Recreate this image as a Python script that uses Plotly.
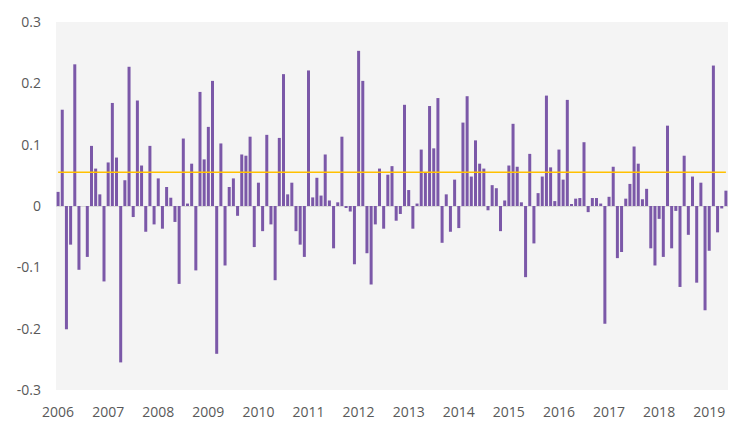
import plotly.graph_objects as go
import pandas as pd

months = [d.strftime("%Y-%m") for d in pd.date_range("2006-01-01", periods=161, freq="MS")]

returns = [
    0.023, 0.157, -0.201, -0.063, 0.231, -0.104, 0.0, -0.083, 0.098, 0.061, 0.019, -0.123,
    0.071, 0.168, 0.079, -0.255, 0.042, 0.227, -0.018, 0.172, 0.066, -0.042, 0.098, -0.030,
    0.045, -0.037, 0.031, 0.0135, -0.026, -0.127, 0.110, 0.004, 0.069, -0.105, 0.186, 0.076,
    0.129, 0.204, -0.241, 0.102, -0.097, 0.031, 0.045, -0.016, 0.084, 0.082, 0.113, -0.067,
    0.038, -0.041, 0.116, -0.030, -0.121, 0.111, 0.215, 0.019, 0.038, -0.041, -0.063, -0.083,
    0.221, 0.014, 0.046, 0.017, 0.084, 0.009, -0.069, 0.006, 0.113, -0.002, -0.009, -0.095,
    0.253, 0.204, -0.077, -0.128, -0.030, 0.061, -0.037, 0.051, 0.065, -0.024, -0.013, 0.165,
    0.026, -0.037, 0.004, 0.092, 0.054, 0.163, 0.094, 0.176, -0.060, 0.019, -0.042, 0.043,
    -0.036, 0.136, 0.179, 0.048, 0.107, 0.069, 0.061, -0.007, 0.034, 0.029, -0.041, 0.009,
    0.066, 0.134, 0.064, 0.006, -0.116, 0.085, -0.061, 0.021, 0.048, 0.180, 0.063, 0.008,
    0.092, 0.043, 0.173, 0.003, 0.012, 0.013, 0.104, -0.010, 0.013, 0.013, 0.004, -0.192,
    0.015, 0.064, -0.085, -0.075, 0.012, 0.036, 0.097, 0.069, 0.011, 0.028, -0.069, -0.097,
    -0.021, -0.083, 0.131, -0.069, -0.008, -0.132, 0.082, -0.047, 0.048, -0.125, 0.038, -0.170,
    -0.073, 0.229, -0.043, -0.004, 0.025,
]

mean_value = 0.055

year_tick_vals = [f"{y}-01" for y in range(2006, 2020)]
year_tick_text = [str(y) for y in range(2006, 2020)]

y_tick_vals = [0.3, 0.2, 0.1, 0, -0.1, -0.2, -0.3]
y_tick_text = ["0.3", "0.2", "0.1", "0", "-0.1", "-0.2", "-0.3"]

fig = go.Figure()
fig.add_trace(go.Bar(
    x=months, y=returns,
    marker=dict(color="#7b58a8", line=dict(width=0)),
    showlegend=False,
))
fig.add_trace(go.Scatter(
    x=months, y=[mean_value] * len(months),
    mode="lines", line=dict(color="#ffc000", width=1.5),
    showlegend=False,
))

fig.update_layout(
    width=730, height=421,
    margin=dict(l=48, r=10, t=14, b=39, autoexpand=False),
    paper_bgcolor="white",
    plot_bgcolor="#f4f4f4",
    bargap=0.28,
    font=dict(family="Open Sans", size=14, color="#595959"),
)
fig.update_xaxes(
    type="category",
    range=[-0.5, len(months) - 0.5],
    tickmode="array", tickvals=year_tick_vals, ticktext=year_tick_text,
    showgrid=False, showline=False, zeroline=False, ticks="",
    tickangle=0, automargin=False, ticklabelstandoff=12,
)
fig.update_yaxes(
    range=[-0.3, 0.3],
    tickmode="array", tickvals=y_tick_vals, ticktext=y_tick_text,
    showgrid=False, showline=False,
    zeroline=True, zerolinecolor="#d9d9d9", zerolinewidth=1,
    ticks="", ticklabelstandoff=14, automargin=False,
)

fig.write_html("out.html")
